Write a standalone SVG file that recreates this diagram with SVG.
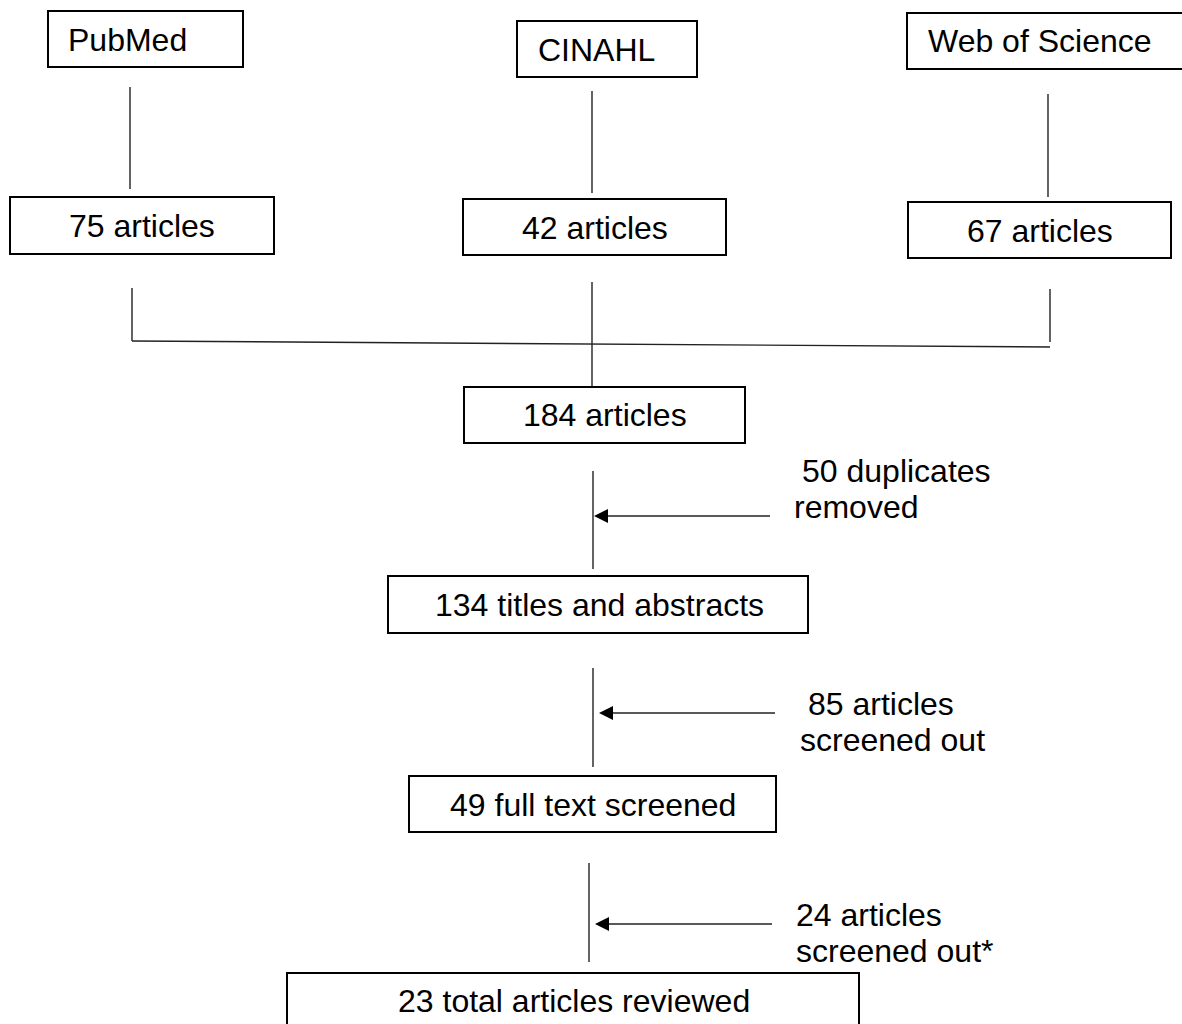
<svg xmlns="http://www.w3.org/2000/svg" width="1182" height="1024" viewBox="0 0 1182 1024">
<style>
.box{fill:#fff;stroke:#000;stroke-width:2}
.ln{fill:none;stroke:#222;stroke-width:1.4}
.t{font-family:"Liberation Sans",Arial,sans-serif;font-size:32px;fill:#000}
</style>
<defs>
<marker id="ah" markerWidth="14" markerHeight="14" refX="0" refY="7" orient="auto" markerUnits="userSpaceOnUse" viewBox="0 0 14 14">
<path d="M0,0 L14,7 L0,14 Z" fill="#000"/>
</marker>
</defs>
<rect width="1182" height="1024" fill="#fff"/>
<g id="connectors">
<line class="ln" x1="130" y1="87" x2="130" y2="189"/>
<line class="ln" x1="592" y1="91" x2="592" y2="193"/>
<line class="ln" x1="1048" y1="94" x2="1048" y2="197"/>
<line class="ln" x1="132" y1="288" x2="132" y2="341"/>
<line class="ln" x1="1050" y1="289" x2="1050" y2="342"/>
<line class="ln" x1="132" y1="341" x2="1050" y2="347"/>
<line class="ln" x1="592" y1="282" x2="592" y2="387"/>
<line class="ln" x1="593" y1="471" x2="593" y2="569"/>
<line class="ln" x1="770" y1="516" x2="608" y2="516" marker-end="url(#ah)"/>
<line class="ln" x1="593" y1="668" x2="593" y2="767"/>
<line class="ln" x1="775" y1="713" x2="613" y2="713" marker-end="url(#ah)"/>
<line class="ln" x1="589" y1="863" x2="589" y2="962"/>
<line class="ln" x1="772" y1="924" x2="609" y2="924" marker-end="url(#ah)"/>
</g>
<g id="pubmed"><rect class="box" x="48" y="11" width="195" height="56"/><text class="t" x="68" y="51">PubMed</text></g>
<g id="cinahl"><rect class="box" x="517" y="21" width="180" height="56"/><text class="t" x="538" y="61">CINAHL</text></g>
<g id="wos"><rect class="box" x="907" y="13" width="290" height="56"/><text class="t" x="928" y="52">Web of Science</text></g>
<g id="pm75"><rect class="box" x="10" y="197" width="264" height="57"/><text class="t" x="69" y="237">75 articles</text></g>
<g id="ci42"><rect class="box" x="463" y="199" width="263" height="56"/><text class="t" x="522" y="239">42 articles</text></g>
<g id="ws67"><rect class="box" x="908" y="202" width="263" height="56"/><text class="t" x="967" y="242">67 articles</text></g>
<g id="total184"><rect class="box" x="464" y="387" width="281" height="56"/><text class="t" x="523" y="426">184 articles</text></g>
<g id="dup"><text class="t" x="802" y="482">50 duplicates</text><text class="t" x="794" y="518">removed</text></g>
<g id="titles134"><rect class="box" x="388" y="576" width="420" height="57"/><text class="t" x="435" y="616">134 titles and abstracts</text></g>
<g id="out85"><text class="t" x="808" y="715">85 articles</text><text class="t" x="800" y="751">screened out</text></g>
<g id="full49"><rect class="box" x="409" y="776" width="367" height="56"/><text class="t" x="450" y="816">49 full text screened</text></g>
<g id="out24"><text class="t" x="796" y="926">24 articles</text><text class="t" x="796" y="962">screened out*</text></g>
<g id="final23"><rect class="box" x="287" y="973" width="572" height="70"/><text class="t" x="398" y="1012">23 total articles reviewed</text></g>
</svg>
